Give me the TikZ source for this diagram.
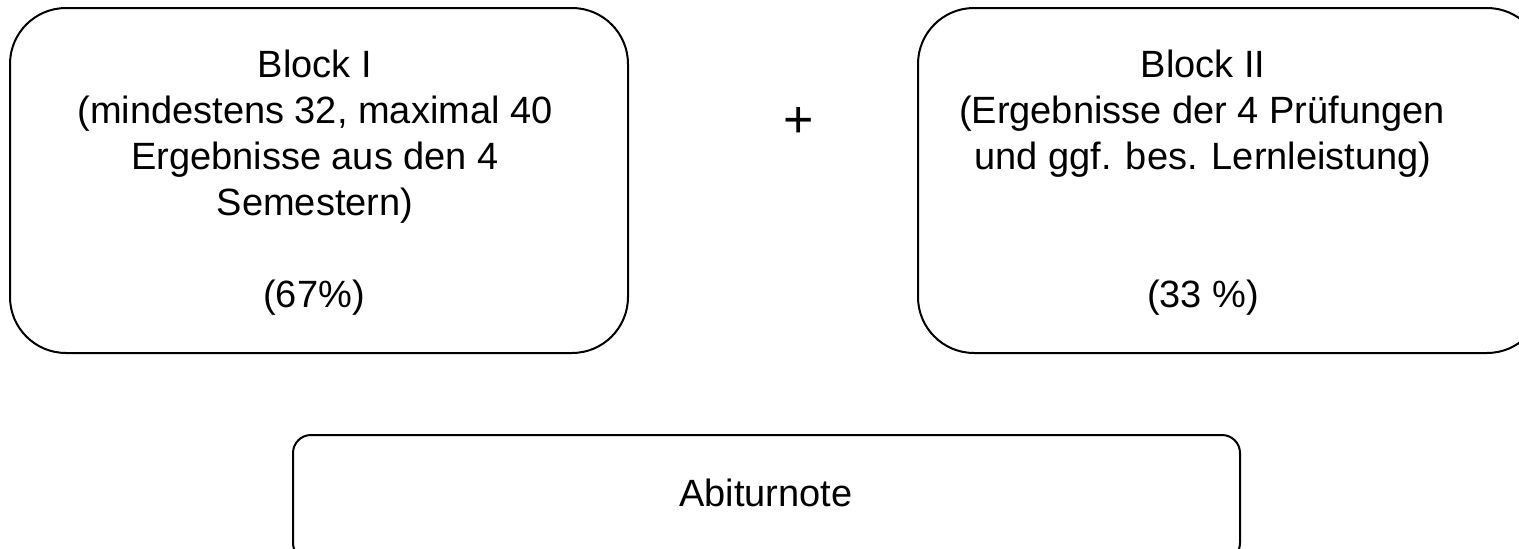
\documentclass[tikz,border=0pt]{standalone}
\usepackage{fontspec}
\setmainfont{Liberation Sans}
\begin{document}
\begin{tikzpicture}[x=1pt,y=-1pt,
  box/.style={draw=black,line width=2pt,rectangle,inner sep=0pt},
  bigbox/.style={box,rounded corners=56pt},
  smallbox/.style={box,rounded corners=18pt},
  txt/.style={inner sep=0pt,anchor=base,font=\fontsize{38}{46}\selectfont}
]
\useasboundingbox (0,0) rectangle (1519,549);
\clip (0,0) rectangle (1519,549);
\node[bigbox,minimum width=618pt,minimum height=345pt] (b1) at (319,180.5) {};
\node[bigbox,minimum width=625pt,minimum height=345pt] (b2) at (1230.5,180.5) {};
\node[smallbox,minimum width=947pt,minimum height=126pt] (b3) at (766.5,498) {};
% Block I text
\node[txt] (t1a) at (315,77) {Block I};
\node[txt] (t1b) at (315,123) {(mindestens 32, maximal 40};
\node[txt] (t1c) at (315,169) {Ergebnisse aus den 4};
\node[txt] (t1d) at (315,215) {Semestern)};
\node[txt] (t1e) at (314,307) {(67\%)};
% Block II text
\node[txt] (t2a) at (1203,77) {Block II};
\node[txt] (t2b) at (1202,123) {(Ergebnisse der 4 Prüfungen};
\node[txt] (t2c) at (1203,169) {und ggf. bes. Lernleistung)};
\node[txt] (t2e) at (1203,307) {(33 \%)};
% plus
\node[inner sep=0pt,anchor=base,font=\fontsize{52}{52}\selectfont] (plus) at (799,137) {+};
% result
\node[txt] (t3) at (766,506) {Abiturnote};
\end{tikzpicture}
\end{document}
